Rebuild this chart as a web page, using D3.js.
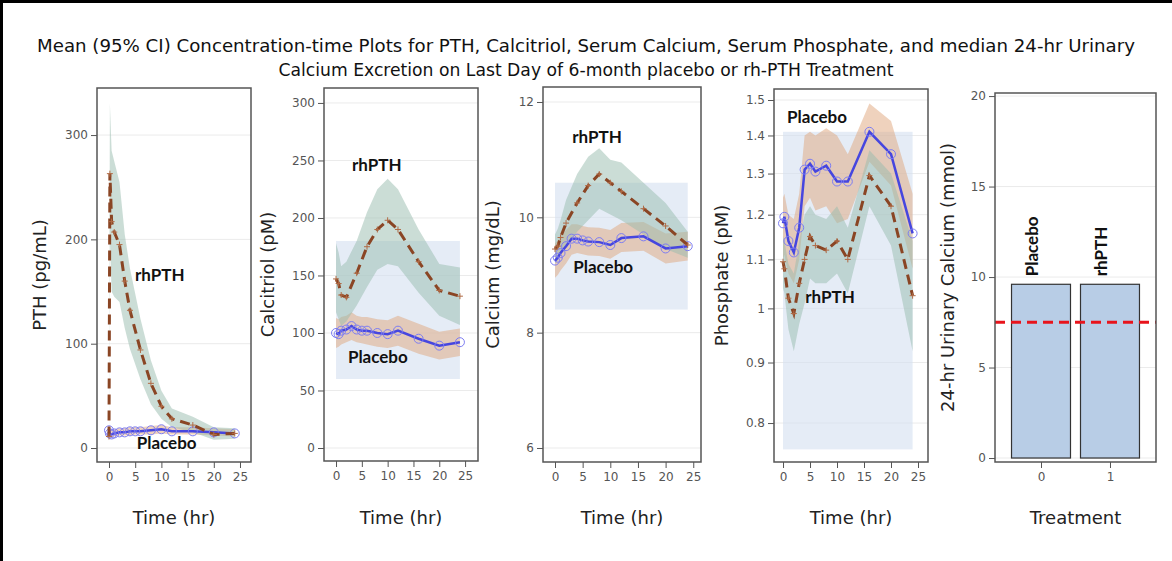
<!DOCTYPE html>
<html>
<head>
<meta charset="utf-8">
<script src="https://cdn.jsdelivr.net/npm/d3@7"></script>
<style>
body { margin: 0; background: #fff; }
text { font-family: "DejaVu Sans", Verdana, sans-serif; }
</style>
</head>
<body>
<div id="chart"></div>
<script>
// ---- data ----
// PTH (pg/mL)
let pthRhTime = [0, 0.17, 0.5, 1, 2, 3, 4, 6, 8, 10, 12, 16, 20, 24];
let pthRhMean = [11, 263, 217, 207, 195, 160, 132, 94, 62, 40, 28, 22, 13, 14];
let pthRhLow  = [6, 200, 150, 145, 140, 115, 95, 66, 42, 28, 20, 15, 8, 9];
let pthRhHigh = [17, 330, 285, 275, 255, 205, 172, 124, 84, 55, 38, 30, 20, 19];
let pthPlTime = [0, 0.17, 0.5, 1, 2, 3, 4, 5, 6, 8, 10, 12, 16, 20, 24];
let pthPlMean = [17, 14, 13, 14, 15, 15, 16, 16, 16, 17, 18, 16, 16, 15, 14];
let pthPlLow  = [13, 10, 10, 11, 12, 12, 12, 13, 13, 13, 14, 13, 13, 12, 11];
let pthPlHigh = [21, 18, 17, 18, 19, 19, 20, 20, 20, 21, 22, 20, 20, 19, 18];

// Calcitriol (pM)
let calRhTime = [0, 0.5, 1, 2, 4, 6, 8, 10, 12, 16, 20, 24];
let calRhMean = [147, 143, 133, 131, 152, 175, 190, 198, 190, 162, 137, 132];
let calRhLow  = [118, 112, 106, 110, 124, 140, 155, 160, 158, 135, 115, 107];
let calRhHigh = [178, 170, 158, 162, 180, 205, 225, 234, 225, 190, 160, 157];
let calPlTime = [0, 0.5, 1, 2, 3, 4, 5, 6, 8, 10, 12, 16, 20, 24];
let calPlMean = [100, 99, 102, 103, 106, 103, 102, 102, 100, 99, 102, 95, 89, 92];
let calPlLow  = [87, 88, 90, 92, 94, 92, 91, 90, 88, 87, 89, 82, 77, 80];
let calPlHigh = [113, 112, 114, 115, 118, 115, 114, 114, 112, 111, 115, 108, 101, 104];
let calRange = [60, 180];

// Serum calcium (mg/dL)
let caRhTime = [0, 0.5, 1, 2, 4, 6, 8, 10, 12, 16, 20, 24];
let caRhMean = [9.45, 9.5, 9.65, 9.9, 10.25, 10.55, 10.75, 10.6, 10.45, 10.15, 9.85, 9.52];
let caRhLow  = [9.2, 9.25, 9.35, 9.5, 9.75, 9.95, 10.15, 10.05, 9.95, 9.7, 9.45, 9.3];
let caRhHigh = [9.7, 9.8, 9.95, 10.3, 10.75, 11.05, 11.2, 11.0, 10.95, 10.6, 10.25, 9.75];
let caPlTime = [0, 0.5, 1, 2, 3, 4, 5, 6, 8, 10, 12, 16, 20, 24];
let caPlMean = [9.25, 9.3, 9.38, 9.5, 9.63, 9.63, 9.6, 9.58, 9.57, 9.52, 9.64, 9.67, 9.46, 9.5];
let caPlLow  = [8.95, 9.0, 9.08, 9.2, 9.35, 9.38, 9.36, 9.34, 9.33, 9.28, 9.4, 9.42, 9.2, 9.25];
let caPlHigh = [9.55, 9.6, 9.68, 9.78, 9.88, 9.88, 9.85, 9.83, 9.82, 9.78, 9.9, 9.92, 9.72, 9.75];
let caRange = [8.4, 10.6];

// Serum phosphate (pM)
let phPlTime = [0, 0.25, 1, 2, 3, 4, 5, 6, 8, 10, 12, 16, 20, 24];
let phPlMean = [1.18, 1.195, 1.14, 1.115, 1.17, 1.31, 1.325, 1.305, 1.32, 1.28, 1.28, 1.41, 1.35, 1.157];
let phPlLow  = [1.10, 1.11, 1.07, 1.05, 1.10, 1.22, 1.24, 1.21, 1.22, 1.18, 1.19, 1.33, 1.27, 1.08];
let phPlHigh = [1.24, 1.25, 1.20, 1.19, 1.25, 1.40, 1.41, 1.40, 1.42, 1.40, 1.35, 1.49, 1.44, 1.25];
let phRhTime = [0, 0.25, 1, 2, 3, 4, 5, 6, 8, 10, 12, 16, 20, 24];
let phRhMean = [1.095, 1.08, 1.02, 0.99, 1.05, 1.10, 1.15, 1.13, 1.12, 1.14, 1.10, 1.295, 1.22, 1.025];
let phRhLow  = [1.04, 1.03, 0.96, 0.92, 0.97, 1.01, 1.06, 1.05, 1.05, 1.07, 1.03, 1.22, 1.13, 0.92];
let phRhHigh = [1.15, 1.14, 1.09, 1.07, 1.14, 1.20, 1.22, 1.20, 1.19, 1.22, 1.17, 1.36, 1.30, 1.14];
let phRange = [0.76, 1.41];

let rangeTime = [0, 24];

// 24-hr urinary calcium (mmol), median
let treatments = [0, 1];
let treatmentNames = ["Placebo", "rhPTH"];
let urineMedian = [9.6, 9.6];
let urineRef = 7.5;

// tick labels
let timeTicks = [0, 5, 10, 15, 20, 25];
let pthTicks = [0, 100, 200, 300];
let calTicks = [0, 50, 100, 150, 200, 250, 300];
let caTicks = [6, 8, 10, 12];
let phTicks = [0.8, 0.9, 1, 1.1, 1.2, 1.3, 1.4, 1.5];
let urineTicks = [0, 5, 10, 15, 20];

// ---- styling ----
let w = 1172;
let h = 561;
let rhColor = "#8a4524";
let plColor = "#4646df";
let plMarker = "#7d7df2";
let rhBand = "#97bbad";
let plBand = "#e0a67c";
let boxColor = "#d3e0f0";

let svg = d3.select("#chart").append("svg")
              .attr("width", w)
              .attr("height", h)
              .style("display", "block");

svg.append("rect").attr("width", w).attr("height", h).attr("fill", "#fff");
// page border (top and left)
svg.append("rect").attr("x", 0).attr("y", 0).attr("width", w).attr("height", 3).attr("fill", "#000");
svg.append("rect").attr("x", 0).attr("y", 0).attr("width", 3).attr("height", h).attr("fill", "#000");

// title
let titleLines = [
  "Mean (95% CI) Concentration-time Plots for PTH, Calcitriol, Serum Calcium, Serum Phosphate, and median 24-hr Urinary",
  "Calcium Excretion on Last Day of 6-month placebo or rh-PTH Treatment"
];
let titleLen = [1098, 615];
svg.selectAll("title-line").data(titleLines).enter()
   .append("text")
     .attr("x", 586)
     .attr("y", (d, i) => 52 + i * 24)
     .attr("text-anchor", "middle")
     .attr("font-size", 18)
     .style("font-family", "'DejaVu Sans Condensed', 'DejaVu Sans', sans-serif")
     .style("font-stretch", "condensed")
     .attr("textLength", (d, i) => titleLen[i])
     .attr("lengthAdjust", "spacingAndGlyphs")
     .attr("fill", "#111")
     .text(d => d);

function series(time, mean, lo, hi) {
  return time.map((t, i) => ({t: t, v: mean[i], lo: lo[i], hi: hi[i]}));
}

let panels = [
  {
    frame: [97, 251, 88, 462], xDom: [-2.29, 27.1], yDom: [-13.4, 345.1], log: false,
    yTicks: pthTicks, yLabel: "PTH (pg/mL)", yLabelX: 40,
    rh: series(pthRhTime, pthRhMean, pthRhLow, pthRhHigh),
    pl: series(pthPlTime, pthPlMean, pthPlLow, pthPlHigh),
    box: null,
    labels: [{text: "rhPTH", t: 9.7, v: 166}, {text: "Placebo", t: 11, v: 5}]
  },
  {
    frame: [324, 478, 88, 461], xDom: [-2.33, 27.5], yDom: [-11.3, 313], log: false,
    yTicks: calTicks, yLabel: "Calcitriol (pM)", yLabelX: 268,
    rh: series(calRhTime, calRhMean, calRhLow, calRhHigh),
    pl: series(calPlTime, calPlMean, calPlLow, calPlHigh),
    box: calRange,
    labels: [{text: "rhPTH", t: 7.9, v: 246}, {text: "Placebo", t: 8.1, v: 79}]
  },
  {
    frame: [543, 701, 87, 462], xDom: [-2.17, 26.4], yDom: [5.757, 12.26], log: false,
    yTicks: caTicks, yLabel: "Calcium (mg/dL)", yLabelX: 493,
    rh: series(caRhTime, caRhMean, caRhLow, caRhHigh),
    pl: series(caPlTime, caPlMean, caPlLow, caPlHigh),
    box: caRange,
    labels: [{text: "rhPTH", t: 7.6, v: 11.39}, {text: "Placebo", t: 8.7, v: 9.14}]
  },
  {
    frame: [774, 928, 89, 462], xDom: [-1.67, 26.85], yDom: [0.7416, 1.5325], log: true,
    yTicks: phTicks, yLabel: "Phosphate (pM)", yLabelX: 722,
    rh: series(phRhTime, phRhMean, phRhLow, phRhHigh),
    pl: series(phPlTime, phPlMean, phPlLow, phPlHigh),
    box: phRange,
    labels: [{text: "Placebo", t: 6.3, v: 1.451}, {text: "rhPTH", t: 8.7, v: 1.022}]
  }
];

function frameAndAxes(g, f, x, y, xTicks, yTicks, yFmt) {
  // grid
  g.selectAll("grid").data(yTicks).enter()
   .append("line")
     .attr("x1", f[0]).attr("x2", f[1])
     .attr("y1", d => y(d)).attr("y2", d => y(d))
     .attr("stroke", "#ebebeb").attr("stroke-width", 1);

  let ya = g.append("g")
            .attr("transform", "translate(" + f[0] + ",0)")
            .call(d3.axisLeft(y).tickValues(yTicks).tickSize(6).tickPadding(3).tickFormat(yFmt));
  let xa = g.append("g")
            .attr("transform", "translate(0," + f[3] + ")")
            .call(d3.axisBottom(x).tickValues(xTicks).tickSize(6).tickPadding(4).tickFormat(d3.format("d")));
  [ya, xa].forEach(a => {
    a.select(".domain").remove();
    a.selectAll("line").attr("stroke", "#555");
    a.selectAll("text").attr("fill", "#555").attr("font-size", 12)
     .style("font-family", "'DejaVu Sans', Verdana, sans-serif");
  });
}

function drawFrame(g, f) {
  g.append("rect")
     .attr("x", f[0]).attr("y", f[2])
     .attr("width", f[1] - f[0]).attr("height", f[3] - f[2])
     .attr("fill", "none").attr("stroke", "#555").attr("stroke-width", 1.5);
}

function axisTitles(g, f, xText, yText, yx) {
  g.append("text")
     .attr("x", (f[0] + f[1]) / 2).attr("y", 524)
     .attr("text-anchor", "middle").attr("font-size", 18).attr("fill", "#222")
     .text(xText);
  g.append("text")
     .attr("transform", "translate(" + yx + "," + ((f[2] + f[3]) / 2) + ") rotate(-90)")
     .attr("text-anchor", "middle").attr("dy", "0.35em")
     .attr("font-size", 18).attr("fill", "#222")
     .text(yText);
}

panels.forEach(p => {
  let f = p.frame;
  let g = svg.append("g");
  let x = d3.scaleLinear().domain(p.xDom).range([f[0], f[1]]);
  let y = (p.log ? d3.scaleLog() : d3.scaleLinear()).domain(p.yDom).range([f[3], f[2]]);
  let fmt = p.log ? d3.format("~g") : d3.format("d");

  frameAndAxes(g, f, x, y, timeTicks, p.yTicks, fmt);

  // normal range box
  if (p.box) {
    g.append("rect")
       .attr("x", x(rangeTime[0])).attr("width", x(rangeTime[1]) - x(rangeTime[0]))
       .attr("y", y(p.box[1])).attr("height", y(p.box[0]) - y(p.box[1]))
       .attr("fill", boxColor).attr("opacity", 0.6);
  }

  let area = d3.area().x(d => x(d.t)).y0(d => y(d.lo)).y1(d => y(d.hi));
  let line = d3.line().x(d => x(d.t)).y(d => y(d.v));

  g.append("path").datum(p.pl).attr("d", area)
     .attr("fill", plBand).attr("opacity", 0.5);
  g.append("path").datum(p.rh).attr("d", area)
     .attr("fill", rhBand).attr("opacity", 0.5);

  // placebo: solid line with open circles
  g.append("path").datum(p.pl).attr("d", line)
     .attr("fill", "none").attr("stroke", plColor).attr("stroke-width", 2.5);
  g.selectAll("plDots").data(p.pl).enter()
   .append("circle")
     .attr("cx", d => x(d.t)).attr("cy", d => y(d.v)).attr("r", 4.5)
     .attr("fill", "none").attr("stroke", plMarker).attr("stroke-width", 1);

  // rhPTH: dashed line with small plus markers
  g.append("path").datum(p.rh).attr("d", line)
     .attr("fill", "none").attr("stroke", rhColor).attr("stroke-width", 3)
     .attr("stroke-dasharray", "10,6");
  g.selectAll("rhPlus").data(p.rh).enter()
   .append("path")
     .attr("transform", d => "translate(" + x(d.t) + "," + y(d.v) + ")")
     .attr("d", "M-3,0H3M0,-3V3")
     .attr("stroke", "#b06a45").attr("stroke-width", 1);

  g.selectAll("lbl").data(p.labels).enter()
   .append("text")
     .attr("x", d => x(d.t)).attr("y", d => y(d.v))
     .attr("text-anchor", "middle").attr("dy", "0.35em")
     .attr("font-size", 17).attr("font-weight", "bold")
     .style("font-family", "Lato, 'Open Sans', sans-serif")
     .attr("fill", "#111")
     .text(d => d.text);

  drawFrame(g, f);
  axisTitles(g, f, "Time (hr)", p.yLabel, p.yLabelX);
});

// ---- urinary calcium bar panel ----
let uf = [995, 1156, 93, 462];
let ug = svg.append("g");
let ux = d3.scaleLinear().domain([-0.667, 1.667]).range([uf[0], uf[1]]);
let uy = d3.scaleLinear().domain([-0.22, 20.17]).range([uf[3], uf[2]]);
let barHalf = 0.4275;

frameAndAxes(ug, uf, ux, uy, treatments, urineTicks, d3.format("d"));

ug.selectAll("bars").data(treatments).enter()
  .append("rect")
    .attr("x", d => ux(d - barHalf))
    .attr("width", d => ux(d + barHalf) - ux(d - barHalf))
    .attr("y", (d, i) => uy(urineMedian[i]))
    .attr("height", (d, i) => uy(0) - uy(urineMedian[i]))
    .attr("fill", "#b8cde6").attr("stroke", "#333").attr("stroke-width", 1.2);

ug.selectAll("barLbl").data(treatments).enter()
  .append("text")
    .attr("transform", (d, i) => "translate(" + (ux(d) - 9) + "," + (uy(urineMedian[i]) - 8) + ") rotate(-90)")
    .attr("dy", "0.35em")
    .attr("font-size", 17).attr("font-weight", "bold")
    .style("font-family", "Lato, 'Open Sans', sans-serif")
    .attr("fill", "#111")
    .text((d, i) => treatmentNames[i]);

ug.append("line")
   .attr("x1", uf[0]).attr("x2", uf[1])
   .attr("y1", uy(urineRef)).attr("y2", uy(urineRef))
   .attr("stroke", "#e8141c").attr("stroke-width", 3)
   .attr("stroke-dasharray", "10,6");

drawFrame(ug, uf);
axisTitles(ug, uf, "Treatment", "24-hr Urinary Calcium (mmol)", 948);
</script>
</body>
</html>
